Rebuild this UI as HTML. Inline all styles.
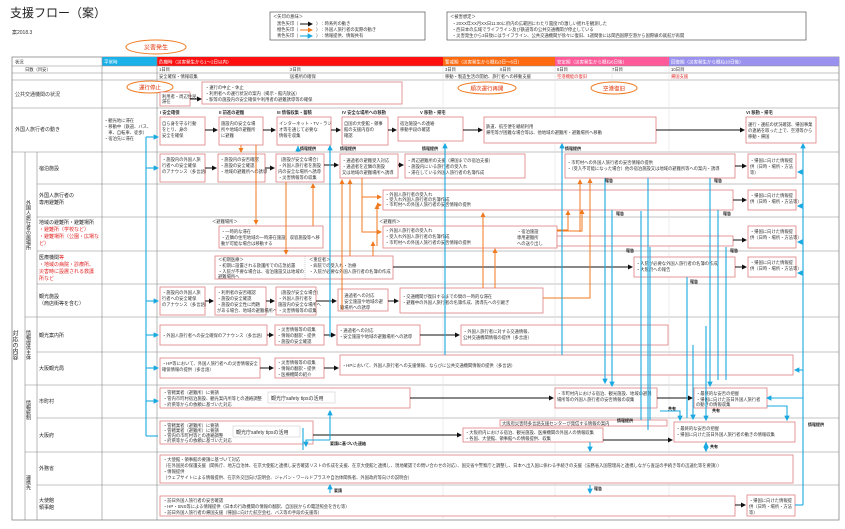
<!DOCTYPE html>
<html><head><meta charset="utf-8"><style>
html,body{margin:0;padding:0;background:#fff;}
svg{display:block;font-family:"Liberation Sans","Noto Sans CJK JP",sans-serif;}
.t{font-size:4.3px;fill:#333}
.l{font-size:6px;fill:#222}
.r{fill:#fff;stroke:#e08080;stroke-width:0.8}
.g{stroke:#888;stroke-width:0.6;fill:none}
.gl{stroke:#ddd;stroke-width:0.5}
.b{stroke:#1aa8e0;stroke-width:1.1;fill:none}
.o{stroke:#f07a20;stroke-width:1;fill:none}
.k{stroke:#111;stroke-width:1;fill:none}
.h{font-size:4.5px;fill:#fff}
</style></head><body>
<svg width="845" height="529" viewBox="0 0 845 529">
<defs>
<marker id="mb" markerWidth="5" markerHeight="5" refX="4" refY="2.5" orient="auto"><path d="M0,0L5,2.5L0,5z" fill="#1aa8e0"/></marker>
<marker id="mo" markerWidth="5" markerHeight="5" refX="4" refY="2.5" orient="auto"><path d="M0,0L5,2.5L0,5z" fill="#f07a20"/></marker>
<marker id="mk" markerWidth="5" markerHeight="5" refX="4" refY="2.5" orient="auto"><path d="M0,0L5,2.5L0,5z" fill="#111"/></marker>
</defs>
<text x="10" y="17" style="font-size:12px;fill:#222">支援フロー（案）</text>
<text x="12" y="34" class="t" style="font-size:5px">案2018.3</text>
<rect x="270" y="12" width="155" height="28" fill="#fff" stroke="#555" stroke-width="0.7"/>
<text x="273" y="18" class="t">＜矢印の意味＞</text>
<text x="277" y="25" class="t">黒色矢印（</text><line x1="300" y1="24" x2="312" y2="24" class="k" marker-end="url(#mk)"/><text x="316" y="25" class="t">）：時系列の動き</text>
<text x="277" y="31" class="t">橙色矢印（</text><line x1="300" y1="30" x2="312" y2="30" class="o" marker-end="url(#mo)"/><text x="316" y="31" class="t">）：外国人旅行者の実際の動き</text>
<text x="277" y="37" class="t">青色矢印（</text><line x1="300" y1="36" x2="312" y2="36" class="b" marker-end="url(#mb)"/><text x="316" y="37" class="t">）：情報提供、情報共有</text>
<rect x="447" y="12" width="359" height="28" fill="#fff" stroke="#555" stroke-width="0.7"/>
<text x="450" y="18" class="t">＜被害想定＞</text>
<text x="452" y="25" class="t">・20XX年XX月XX日11:00に府内の広範囲にわたり震度7の激しい揺れを観測した</text>
<text x="452" y="31" class="t">・西日本の広域でライフライン及び鉄道等の公共交通機関が停止している</text>
<text x="452" y="37" class="t">・災害発生から3日後にはライフライン、公共交通機関が徐々に復旧、1週間後には関西国際空港から国際線の就航が再開</text>
<ellipse cx="156" cy="47" rx="30" ry="7" fill="#fff" stroke="#f07a20" stroke-width="1"/>
<text x="156" y="49.5" text-anchor="middle" style="font-size:6px;fill:#e03000">災害発生</text>

<!-- table -->
<rect x="12" y="57" width="827" height="463" fill="#fff" stroke="#888" stroke-width="0.8"/>
<rect x="102" y="57" width="55" height="9" fill="#1ab0e8"/>
<rect x="157" y="57" width="286" height="9" fill="#ff1010"/>
<rect x="443" y="57" width="112" height="9" fill="#ff6a10"/>
<rect x="555" y="57" width="114" height="9" fill="#ff5a9a"/>
<rect x="669" y="57" width="170" height="9" fill="#9a92ee"/>
<text x="104" y="63.5" class="h">平常時</text>
<text x="159" y="63.5" class="h">危機時（災害発生から1～2日以内）</text>
<text x="445" y="63.5" class="h">警戒期（災害発生から概ね3日～6日）</text>
<text x="557" y="63.5" class="h">安定期（災害発生から概ね6日後）</text>
<text x="671" y="63.5" class="h">回復期（災害発生から概ね10日後）</text>
<text x="15" y="63.5" class="t">状況</text>
<text x="25" y="71" class="t">日数（目安）</text>
<text x="159" y="71" class="t">1日目</text><text x="290" y="71" class="t">2日目</text>
<text x="445" y="71" class="t">3日目</text><text x="500" y="71" class="t">6日目</text>
<text x="557" y="71" class="t">6日目</text><text x="612" y="71" class="t">7日目</text><text x="671" y="71" class="t">10日目</text>
<text x="159" y="78" class="t">安全確保・情報収集</text><text x="290" y="78" class="t">居場所の確保</text>
<text x="445" y="78" class="t">移動・製造生活の開始、旅行者への移動支援</text>
<text x="557" y="78" class="t" style="fill:#e03030">空港機能の復旧</text><text x="671" y="78" class="t" style="fill:#e03030">帰国支援</text>
<g class="g">
<line x1="12" y1="66" x2="839" y2="66"/><line x1="12" y1="73" x2="839" y2="73"/><line x1="12" y1="80" x2="839" y2="80"/>
<line x1="12" y1="108" x2="839" y2="108"/><line x1="12" y1="152" x2="839" y2="152"/>
<line x1="37" y1="184" x2="839" y2="184"/><line x1="37" y1="217" x2="839" y2="217"/><line x1="37" y1="251" x2="839" y2="251"/>
<line x1="37" y1="284" x2="839" y2="284"/><line x1="25" y1="317" x2="839" y2="317"/><line x1="37" y1="352" x2="839" y2="352"/>
<line x1="25" y1="385" x2="839" y2="385"/><line x1="37" y1="418" x2="839" y2="418"/><line x1="25" y1="452" x2="839" y2="452"/>
<line x1="37" y1="485" x2="839" y2="485"/>
<line x1="102" y1="57" x2="102" y2="520"/><line x1="157" y1="57" x2="157" y2="520"/>
<line x1="25" y1="152" x2="25" y2="520"/><line x1="37" y1="152" x2="37" y2="520"/>
</g>
<g class="gl"><line x1="443" y1="66" x2="443" y2="520"/><line x1="555" y1="66" x2="555" y2="520"/><line x1="669" y1="66" x2="669" y2="520"/><line x1="290" y1="66" x2="290" y2="80"/><line x1="500" y1="66" x2="500" y2="80"/><line x1="612" y1="66" x2="612" y2="80"/></g>
<text x="15" y="96" class="t" style="font-size:5px">公共交通機関の状況</text>
<text x="15" y="131" class="t" style="font-size:5px">外国人旅行者の動き</text>
<text x="104" y="122" class="t">・観光地に滞在</text><text x="104" y="128" class="t">・移動中（鉄道、バス、</text><text x="104" y="134" class="t">　車、自転車、徒歩）</text><text x="104" y="140" class="t">・宿泊先に滞在</text>
<text x="14" y="330" style="font-size:6px;fill:#222" writing-mode="tb">対応の内容</text>
<text x="28" y="200" style="font-size:5px;fill:#222" writing-mode="tb">外国人旅行者の居場所</text>
<text x="28" y="330" style="font-size:5px;fill:#222" writing-mode="tb">情報提供主体</text>
<text x="28" y="400" style="font-size:5px;fill:#222" writing-mode="tb">情報統制</text>
<text x="28" y="475" style="font-size:5px;fill:#222" writing-mode="tb">連携先</text>
<g style="font-size:5px;fill:#222">
<text x="39" y="170">宿泊施設</text>
<text x="39" y="197">外国人旅行者の</text><text x="39" y="204">専用避難所</text>
<text x="39" y="224">地域の避難所・避難場所</text><text x="39" y="231" fill="#e02020">・避難所（学校など）</text><text x="39" y="238" fill="#e02020">・避難場所（公園・広場な</text><text x="39" y="245" fill="#e02020">ど）</text>
<text x="39" y="259">医療機関<tspan fill="#e02020">等</tspan></text><text x="39" y="266" fill="#e02020">・地域の病院・診療所、</text><text x="39" y="273" fill="#e02020">災害時に設置される救護</text><text x="39" y="280" fill="#e02020">所など</text>
<text x="39" y="298">観光施設</text><text x="39" y="305">（商店街等を含む）</text>
<text x="39" y="337">観光案内所</text>
<text x="39" y="370">大阪観光局</text>
<text x="39" y="403">市町村</text>
<text x="39" y="437">大阪府</text>
<text x="39" y="470">外務省</text>
<text x="39" y="502">大使館</text><text x="39" y="509">領事館</text>
</g>

<!-- ovals -->
<ellipse cx="150" cy="87" rx="23" ry="6" fill="#fff" stroke="#f07a20"/><text x="150" y="89.3" text-anchor="middle" style="font-size:5.5px;fill:#e03000">運行停止</text>
<ellipse cx="487" cy="88" rx="29" ry="6" fill="#fff" stroke="#f07a20"/><text x="487" y="90.3" text-anchor="middle" style="font-size:5.5px;fill:#e03000">順次運行再開</text>
<ellipse cx="614" cy="88" rx="23" ry="6" fill="#fff" stroke="#f07a20"/><text x="614" y="90.3" text-anchor="middle" style="font-size:5.5px;fill:#e03000">空港復旧</text>

<!-- boxes -->
<g>
<rect class="r" x="160" y="92" width="30" height="14"/><text class="t" x="162" y="98">利用者・周辺住民</text><text class="t" x="162" y="103">滞在</text>
<rect class="r" x="202" y="82" width="200" height="22"/><text class="t" x="205" y="89">・運行の中止・休止</text><text class="t" x="205" y="95">・利用者への運行状況の案内（掲示・館内放送）</text><text class="t" x="205" y="101">・駅等の施設内の安全確保や利用者の避難誘導等の確保</text>

<text class="t" x="160" y="114" style="font-weight:bold">I 安全確保</text>
<text class="t" x="219" y="114" style="font-weight:bold">II 前進の避難</text>
<text class="t" x="277" y="114" style="font-weight:bold">III 情報収集・蓄積</text>
<text class="t" x="342" y="114" style="font-weight:bold">IV 安全な場所への移動</text>
<text class="t" x="420" y="114" style="font-weight:bold">V 移動・帰宅</text>
<text class="t" x="746" y="114" style="font-weight:bold">VI 移動・帰宅</text>
<rect class="r" x="160" y="117" width="45" height="28"/><text class="t" x="162" y="125">自ら身を守る行動</text><text class="t" x="162" y="131">をとり、身の</text><text class="t" x="162" y="137">安全を確保</text>
<rect class="r" x="219" y="117" width="44" height="28"/><text class="t" x="221" y="125">施設内の安全な場</text><text class="t" x="221" y="131">所や地域の避難所</text><text class="t" x="221" y="137">に避難</text>
<rect class="r" x="277" y="117" width="54" height="28"/><text class="t" x="279" y="125">インターネット・TV・ラジ</text><text class="t" x="279" y="131">オ等を通じて必要な</text><text class="t" x="279" y="137">情報を収集</text>
<rect class="r" x="342" y="117" width="46" height="28"/><text class="t" x="344" y="125">自国の大使館・領事</text><text class="t" x="344" y="131">館の支援内容の</text><text class="t" x="344" y="137">確認</text>
<rect class="r" x="398" y="117" width="65" height="24"/><text class="t" x="400" y="125">宿泊施設への連絡</text><text class="t" x="400" y="131">移動手段の確認</text>
<rect class="r" x="484" y="117" width="172" height="26"/><text class="t" x="486" y="128">鉄道、航空便を継続利用</text><text class="t" x="486" y="134">帰宅等が困難な場合等は、他地域の避難所・避難場所へ移動</text>
<rect class="r" x="746" y="117" width="70" height="26"/><text class="t" x="748" y="126">運行・運航の状況確認、帰国事業</text><text class="t" x="748" y="132">の連絡を取った上で、空港等から</text><text class="t" x="748" y="138">移動・帰国</text>

<rect class="r" x="160" y="154" width="45" height="28"/><text class="t" x="162" y="161">・施設内の外国人旅</text><text class="t" x="162" y="167">行者への安全確保</text><text class="t" x="162" y="173">のアナウンス（多言語）</text>
<rect class="r" x="218" y="154" width="47" height="28"/><text class="t" x="220" y="161">・施設内の安否確認</text><text class="t" x="220" y="167">・施設の安全確認</text><text class="t" x="220" y="173">・地域の避難所への誘導</text>
<rect class="r" x="276" y="154" width="48" height="28"/><text class="t" x="278" y="161">（施設が安全な場合）</text><text class="t" x="278" y="167">・外国人旅行者を施設</text><text class="t" x="278" y="173">内の安全な場所へ誘導</text><text class="t" x="278" y="179">・災害情報等の収集</text>
<rect class="r" x="340" y="154" width="58" height="24"/><text class="t" x="342" y="162">・通過者の避難受入対応</text><text class="t" x="342" y="168">・通過者を近隣の施設</text><text class="t" x="342" y="174">又は地域の避難場所へ誘導</text>
<rect class="r" x="405" y="154" width="120" height="24"/><text class="t" x="407" y="162">・周辺避難所の支援（帰国までの宿泊支援）</text><text class="t" x="407" y="168">・施設内にいる旅行者の受入れ</text><text class="t" x="407" y="174">・滞在している外国人旅行者の名簿作成</text>
<rect class="r" x="565" y="154" width="170" height="24"/><text class="t" x="567" y="164">・市町村への外国人旅行者の安否情報の提供</text><text class="t" x="567" y="170">・（受入不可能になった場合）他の宿泊施設又は地域の避難所等への案内・誘導</text>
<rect class="r" x="748" y="154" width="48" height="24"/><text class="t" x="750" y="162">・帰国に向けた情報提</text><text class="t" x="750" y="168">供（日時・場所・方法</text><text class="t" x="750" y="174">等）</text>

<rect class="r" x="383" y="190" width="350" height="20"/><text class="t" x="385" y="196">・外国人旅行者の受入れ</text><text class="t" x="385" y="201">・受入れ外国人旅行者の名簿作成</text><text class="t" x="385" y="206">・市町村への外国人旅行者の安否情報の提供</text>
<rect class="r" x="748" y="190" width="48" height="20"/><text class="t" x="750" y="197">・帰国に向けた情報提</text><text class="t" x="750" y="203">供（日時・場所・方法等）</text>

<text class="t" x="212" y="223">＜避難場所＞</text>
<rect class="r" x="219" y="226" width="104" height="22"/><text class="t" x="221" y="233">・一時的な滞在</text><text class="t" x="221" y="239">・近隣の住宅地域の一時滞在施設、収容施設等へ移</text><text class="t" x="221" y="245">動が可能な場合は移動する</text>
<text class="t" x="379" y="223">＜避難所＞</text>
<rect class="r" x="383" y="226" width="174" height="22"/><text class="t" x="385" y="232">・外国人旅行者の受入れ</text><text class="t" x="385" y="238">・受入れ外国人旅行者の名簿作成</text><text class="t" x="385" y="244">・市町村への外国人旅行者の安否情報の提供</text>
<rect class="r" x="557" y="236" width="176" height="10"/><text class="t" x="517" y="233">・宿泊施設</text><text class="t" x="517" y="239">専用避難所</text><text class="t" x="517" y="245">への送り出し</text>
<rect class="r" x="748" y="226" width="48" height="22"/><text class="t" x="750" y="233">・帰国に向けた情報提</text><text class="t" x="750" y="239">供（日時・場所・方法等）</text>

<rect class="r" x="215" y="256" width="178" height="23"/><line x1="305" y1="256" x2="305" y2="279" stroke="#999" stroke-width="0.5" stroke-dasharray="1,1"/>
<text class="t" x="218" y="261">＜初期医療＞</text><text class="t" x="218" y="267">・初期に設置される救護所での応急処置</text><text class="t" x="218" y="273">・入院が不要な場合は、宿泊施設又は地域の</text><text class="t" x="218" y="278">避難場所へ</text>
<text class="t" x="309" y="261">＜重症者＞</text><text class="t" x="309" y="267">・病院での受入れ・治療</text><text class="t" x="309" y="273">・入院が必要な外国人旅行者の名簿の作成</text>
<rect class="r" x="634" y="257" width="101" height="20"/><text class="t" x="636" y="265">・入院が必要な外国人旅行者の名簿の作成</text><text class="t" x="636" y="271">・大阪府への報告</text>
<rect class="r" x="748" y="257" width="48" height="20"/><text class="t" x="750" y="264">・帰国に向けた情報提</text><text class="t" x="750" y="270">供（日時・場所・方法等）</text>

<rect class="r" x="160" y="287" width="45" height="28"/><text class="t" x="162" y="294">・施設内の外国人旅</text><text class="t" x="162" y="300">行者への安全確保</text><text class="t" x="162" y="306">のアナウンス（多言語）</text>
<rect class="r" x="215" y="287" width="51" height="28"/><text class="t" x="217" y="294">・利用者の安否確認</text><text class="t" x="217" y="300">・施設の安全確認</text><text class="t" x="217" y="306">・施設の安全性に問題</text><text class="t" x="217" y="312">がある場合、地域の避難場所へ誘導</text>
<rect class="r" x="276" y="287" width="40" height="28"/><text class="t" x="278" y="294">（施設が安全な場合）</text><text class="t" x="278" y="300">・外国人旅行者を</text><text class="t" x="278" y="306">施設内の安全な場所へ</text><text class="t" x="278" y="312">・災害情報等の収集</text>
<rect class="r" x="338" y="289" width="50" height="22"/><text class="t" x="340" y="297">・通過者への対応</text><text class="t" x="340" y="303">・安全施設や地域の避</text><text class="t" x="340" y="309">難場所への誘導</text>
<rect class="r" x="400" y="288" width="143" height="25"/><text class="t" x="402" y="298">・交通機関が復旧するまでの間の一時的な滞在</text><text class="t" x="402" y="304">・避難中の外国人旅行者の名簿作成、誘導先への引継ぎ</text>

<rect class="r" x="160" y="325" width="107" height="20"/><text class="t" x="162" y="337">・外国人旅行者への安全確保のアナウンス（多言語）</text>
<rect class="r" x="275" y="325" width="49" height="20"/><text class="t" x="277" y="331">・災害情報等の収集</text><text class="t" x="277" y="337">・情報の翻訳・提供</text><text class="t" x="277" y="343">・施設の安全確認</text>
<rect class="r" x="337" y="325" width="83" height="20"/><text class="t" x="339" y="332">・通過者への対応</text><text class="t" x="339" y="338">・安全施設や地域の避難場所への誘導</text>
<rect class="r" x="461" y="325" width="207" height="20"/><text class="t" x="463" y="333">・外国人旅行者に対する交通情報、</text><text class="t" x="463" y="339">公共交通機関情報の提供（多言語）</text>

<rect class="r" x="160" y="358" width="100" height="20"/><text class="t" x="162" y="365">・HP等において、外国人旅行者への災害情報安全</text><text class="t" x="162" y="371">確保情報の提供（多言語）</text>
<rect class="r" x="275" y="358" width="49" height="20"/><text class="t" x="277" y="364">・災害情報等の収集</text><text class="t" x="277" y="370">・情報の翻訳・提供</text><text class="t" x="277" y="376">・医療機関の紹介</text>
<rect class="r" x="340" y="355" width="453" height="20"/><text class="t" x="342" y="367">・HPにおいて、外国人旅行者への支援情報、ならびに公共交通機関情報の提供（多言語）</text>

<rect class="r" x="160" y="388" width="250" height="20"/><text class="t" x="163" y="394">・管轄業者（避難所）に要請</text><text class="t" x="163" y="400">・管内市町村宿泊施設、観光案内所等との連絡調整</text><text class="t" x="163" y="406">・府県等からの依頼に基づいた対応</text>
<rect x="268" y="392" width="67" height="11" fill="#fff" stroke="#ccc" stroke-width="0.6"/><text x="271" y="400" style="font-size:5px;fill:#333">観光庁safety tipsの活用</text>
<rect class="r" x="555" y="388" width="102" height="20"/><text class="t" x="557" y="395">・市町村内における宿泊、観光施設、地域の避難</text><text class="t" x="557" y="401">場所等の外国人旅行者の安否情報の収集</text>
<rect class="r" x="694" y="388" width="73" height="20"/><text class="t" x="696" y="395">・最終的な安否の把握</text><text class="t" x="696" y="401">・帰国に向けた訪日外国人旅行者</text><text class="t" x="696" y="406">の動きの情報収集</text>

<rect class="r" x="160" y="421" width="153" height="23"/><text class="t" x="163" y="427">・管轄業者（避難所）に要請</text><text class="t" x="163" y="432">・管轄業者（避難所）に要請</text><text class="t" x="163" y="437">・管内の市町村等との連絡調整</text><text class="t" x="163" y="442">・府県等からの依頼に基づいた対応</text>
<rect x="233" y="426" width="67" height="11" fill="#fff" stroke="#ccc" stroke-width="0.6"/><text x="236" y="434" style="font-size:5px;fill:#333">観光庁safety tipsの活用</text>
<rect class="r" x="500" y="420" width="167" height="6"/><text class="t" x="502" y="425">大阪府災害時多言語支援センターが発信する情報の案内</text>
<rect class="r" x="463" y="428" width="140" height="14"/><text class="t" x="465" y="434">・大阪府内における宿泊、観光施設、医療機関の外国人の情報収集</text><text class="t" x="465" y="440">・各国、大使館、領事館への情報提供、収集</text>
<rect class="r" x="674" y="422" width="121" height="20"/><text class="t" x="676" y="430">・最終的な安否の把握</text><text class="t" x="676" y="436">・帰国に向けた訪日外国人旅行者の動きの情報収集</text>

<rect class="r" x="160" y="455" width="633" height="28"/><text class="t" x="163" y="461">・大使館・領事館の要請に基づいて対応</text><text class="t" x="163" y="467">（在外国民の保護支援（関係庁、地方自治体、在京大使館と連携し安否確認リストの作成を支援、在京大使館と連携し、現地確認での問い合わせの対応）、国交省や警察庁と調整し、日本へ出入国に係わる手続きの支援（法務省入国管理局と連携しながら査証の手続き等の迅速化等を要請））</text><text class="t" x="163" y="473">・情報提供</text><text class="t" x="163" y="479">（ウェブサイトによる情報提供、在京外交団向け説明会、ジャパン・ワールドプラスや自治体関係者、外国政府等向けの説明会）</text>
<rect class="r" x="160" y="496" width="575" height="20"/><text class="t" x="163" y="502">・訪日外国人旅行者の安否確認</text><text class="t" x="163" y="508">・HP・SNS等による情報提供（日本の行政機関の情報の翻訳、自国民からの電話照会を含む等）</text><text class="t" x="163" y="514">・訪日外国人旅行者の帰国支援（帰国に向けた航空会社、バス等の手段の支援等）</text>
<rect class="r" x="747" y="495" width="48" height="21"/><text class="t" x="749" y="502">・帰国に向けた情報提</text><text class="t" x="749" y="508">供（日時・場所・方法</text><text class="t" x="749" y="514">等）</text>
</g>

<!-- black arrows -->
<g class="k" marker-end="url(#mk)">
<line x1="190" y1="99" x2="201" y2="99"/>
<line x1="205" y1="130" x2="217" y2="130"/><line x1="263" y1="130" x2="275" y2="130"/><line x1="331" y1="130" x2="340" y2="130"/><line x1="388" y1="130" x2="396" y2="130"/><line x1="463" y1="130" x2="482" y2="130"/><line x1="656" y1="130" x2="744" y2="130"/>
<line x1="205" y1="168" x2="216" y2="168"/><line x1="265" y1="168" x2="274" y2="168"/><line x1="324" y1="165" x2="338" y2="165"/><line x1="398" y1="165" x2="403" y2="165"/><line x1="735" y1="166" x2="746" y2="166"/>
<line x1="733" y1="200" x2="746" y2="200"/><line x1="733" y1="240" x2="746" y2="240"/>
<line x1="393" y1="267" x2="632" y2="267"/><line x1="735" y1="267" x2="746" y2="267"/>
<line x1="205" y1="301" x2="213" y2="301"/><line x1="266" y1="301" x2="274" y2="301"/><line x1="316" y1="301" x2="336" y2="301"/><line x1="388" y1="301" x2="398" y2="301"/>
<line x1="267" y1="335" x2="273" y2="335"/><line x1="324" y1="335" x2="335" y2="335"/><line x1="420" y1="335" x2="459" y2="335"/>
<line x1="260" y1="368" x2="273" y2="368"/><line x1="324" y1="368" x2="338" y2="368"/>
<line x1="410" y1="398" x2="553" y2="398"/><line x1="657" y1="398" x2="692" y2="398"/>
<line x1="313" y1="435" x2="461" y2="435"/><line x1="603" y1="440" x2="672" y2="440"/>
<line x1="735" y1="505" x2="745" y2="505"/>
</g>
<!-- orange arrows -->
<g class="o" marker-end="url(#mo)">
<line x1="241" y1="145" x2="241" y2="152"/>
<line x1="256" y1="145" x2="256" y2="224"/>
<line x1="286" y1="182" x2="286" y2="254"/>
<line x1="313" y1="226" x2="313" y2="184"/>
<line x1="342" y1="310" x2="342" y2="180"/>
<line x1="350" y1="256" x2="350" y2="180"/>
<polyline points="362,178 362,232 381,232"/>
<line x1="362" y1="197" x2="381" y2="197"/>
<line x1="377" y1="246" x2="377" y2="205"/><line x1="377" y1="205" x2="381" y2="205"/>
<line x1="373" y1="256" x2="373" y2="242"/>
<polyline points="557,231 582,231 582,210"/>
<polyline points="557,230 568,230 568,211"/>
<polyline points="543,298 590,298 590,179"/>
<line x1="483" y1="288" x2="483" y2="213"/>
<line x1="495" y1="288" x2="495" y2="249"/>
<polyline points="580,232 580,180"/>
</g>
<!-- blue arrows -->
<g class="b">
<line x1="146" y1="137" x2="146" y2="436"/>
<line x1="146" y1="436" x2="158" y2="436"/>
<line x1="330" y1="337" x2="330" y2="146"/>
<line x1="298" y1="152" x2="298" y2="146"/>
<line x1="445" y1="355" x2="445" y2="144"/>
<line x1="562" y1="355" x2="562" y2="144"/>
<line x1="605" y1="372" x2="605" y2="178"/><line x1="612" y1="372" x2="612" y2="210"/>
<line x1="648" y1="430" x2="648" y2="178"/>
<line x1="641" y1="420" x2="641" y2="211"/>
<line x1="650" y1="420" x2="650" y2="247"/>
<line x1="687" y1="418" x2="687" y2="277"/>
<line x1="710" y1="380" x2="710" y2="178"/><line x1="718" y1="380" x2="718" y2="210"/><line x1="726" y1="380" x2="726" y2="247"/>
<line x1="803" y1="505" x2="803" y2="145"/>
<line x1="803" y1="505" x2="795" y2="505"/>
<line x1="303" y1="428" x2="303" y2="450"/><line x1="303" y1="450" x2="741" y2="450" stroke-width="0"/>
</g>
<g class="b" marker-end="url(#mb)">
<line x1="146" y1="137" x2="158" y2="137"/><line x1="146" y1="168" x2="158" y2="168"/><line x1="146" y1="301" x2="158" y2="301"/>
<line x1="146" y1="335" x2="158" y2="335"/><line x1="146" y1="368" x2="158" y2="368"/><line x1="146" y1="401" x2="158" y2="401"/>
<line x1="298" y1="152" x2="298" y2="147"/><line x1="330" y1="150" x2="330" y2="146"/>
<line x1="445" y1="150" x2="445" y2="144"/><line x1="562" y1="150" x2="562" y2="144"/><line x1="803" y1="150" x2="803" y2="144"/>
<line x1="803" y1="172" x2="798" y2="172"/><line x1="803" y1="206" x2="798" y2="206"/><line x1="803" y1="242" x2="798" y2="242"/><line x1="803" y1="273" x2="798" y2="273"/><line x1="803" y1="370" x2="795" y2="370"/>
<line x1="330" y1="440" x2="330" y2="411"/>
<polyline points="330,440 306,440 306,446" /> 
<line x1="330" y1="493" x2="330" y2="485"/>
<polyline points="605,372 605,383"/><polyline points="612,372 612,386"/>
<line x1="710" y1="380" x2="710" y2="386"/>
<polyline points="660,411 680,411 680,420"/>
<polyline points="767,406 787,406 787,420"/>
<polyline points="803,398 767,398" />
<line x1="590" y1="442" x2="590" y2="451"/>
<line x1="590" y1="485" x2="590" y2="493"/>
<line x1="706" y1="442" x2="706" y2="451"/><line x1="706" y1="448" x2="706" y2="443"/>
<line x1="706" y1="326" x2="706" y2="420"/>
<line x1="693" y1="345" x2="693" y2="419"/>
</g>
<g style="font-size:4px;fill:#111;font-weight:bold">
<text x="300" y="150">情報提供</text><text x="340" y="150">情報提供</text><text x="422" y="150">情報提供</text><text x="565" y="150">情報提供</text>
<text x="605" y="182">報告</text><text x="714" y="182">報告</text><text x="616" y="215">報告</text><text x="723" y="215">報告</text>
<text x="626" y="252">報告</text><text x="730" y="252">報告</text><text x="690" y="283">報告</text>
<text x="330" y="445">要請に基づいた連絡</text><text x="334" y="492">要請</text><text x="594" y="490">報告</text>
<text x="617" y="422">情報提供</text><text x="668" y="410">共有</text><text x="712" y="412">共有</text><text x="710" y="448">共有</text><text x="808" y="426">情報提供</text>
</g>
</svg>
</body></html>
